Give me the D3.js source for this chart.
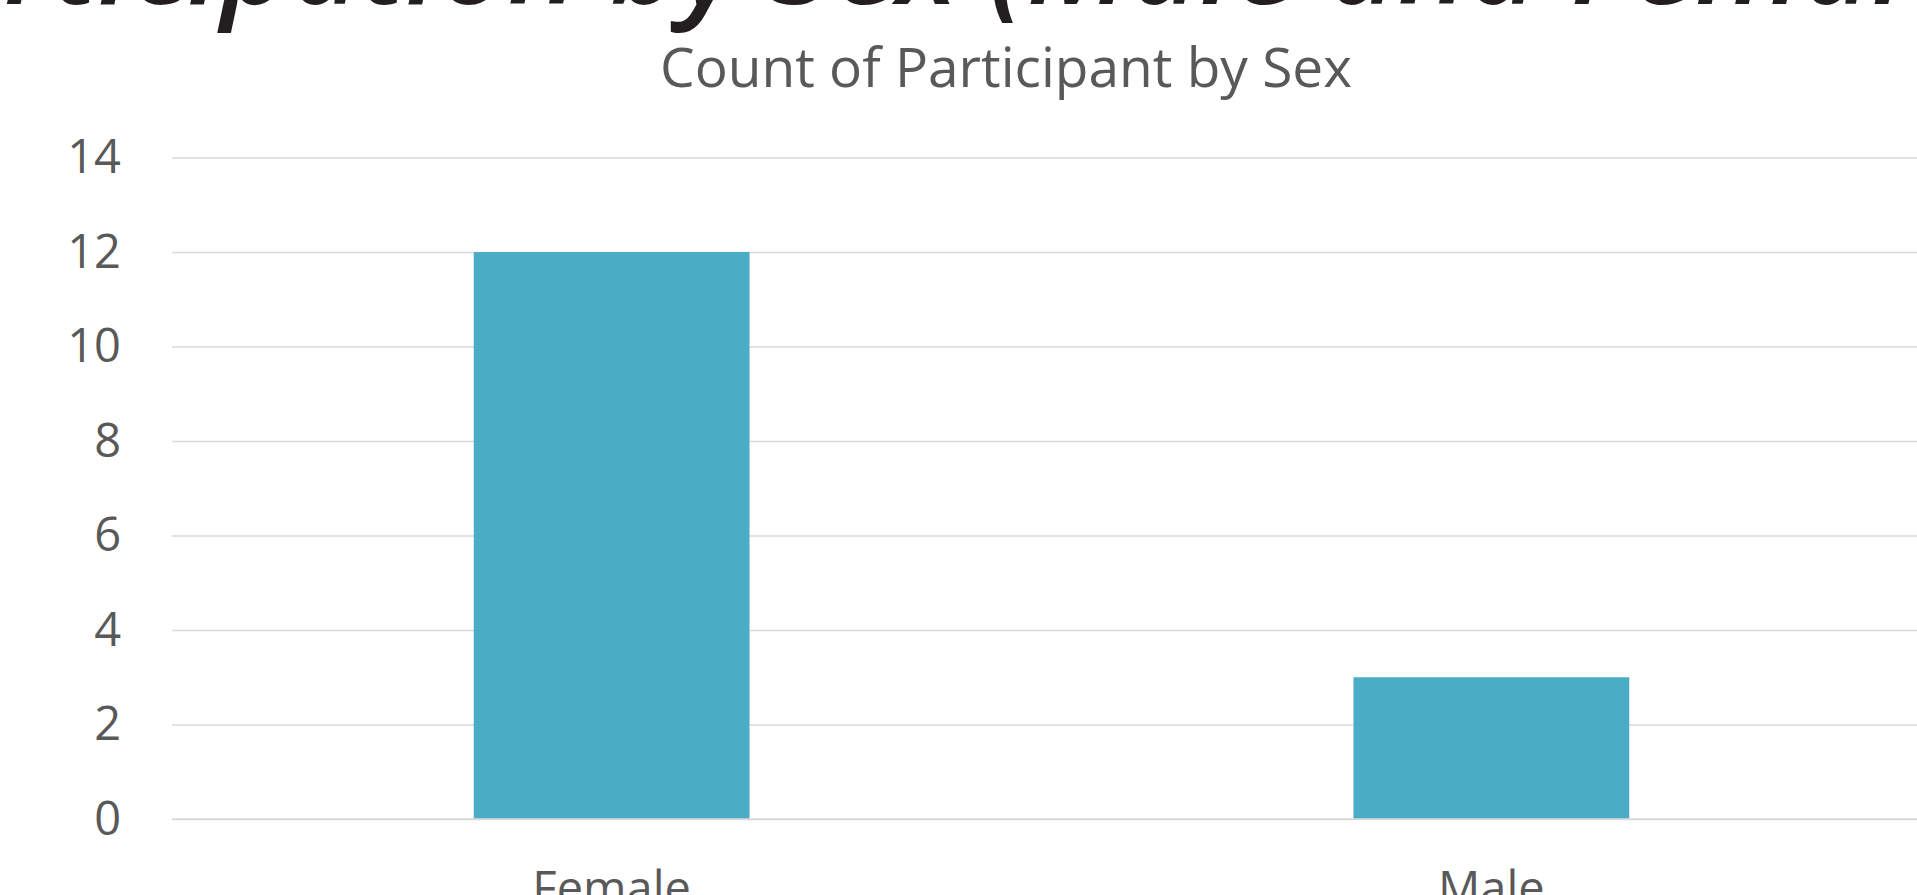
<!DOCTYPE html>
<html>
<head>
<meta charset="utf-8">
<script src="https://cdn.jsdelivr.net/npm/d3@7"></script>
<style>
  body { margin: 0; background: #fff; overflow: hidden; }
  svg { display: block; }
</style>
</head>
<body>
<svg id="chart" width="1917" height="895"></svg>
<script>
// data
const categories = ["Female", "Male"]
const counts = [12, 3]
const yTicks = [0, 2, 4, 6, 8, 10, 12, 14]
const mainTitle = "Participation by Sex (Male and Female)"
const chartTitle = "Count of Participant by Sex"

const plotLeft = 172, plotRight = 1931, plotTop = 157.5, plotBottom = 819

let svg = d3.select("#chart")

let xScale = d3.scaleBand().domain(categories).range([plotLeft, plotRight])
    .paddingInner(0.6865).paddingOuter(0.343)
let yScale = d3.scaleLinear().domain([0, 14]).range([plotBottom, plotTop])

// gridlines + y labels
let y_axis = d3.axisLeft(yScale).tickValues(yTicks)
    .tickSize(-(plotRight - plotLeft)).tickPadding(51)
svg.append("g")
    .attr("transform", `translate(${plotLeft},0)`)
    .call(y_axis)
    .call(g => g.select(".domain").remove())
    .call(g => g.selectAll(".tick line").attr("stroke", "#d9d9d9").attr("stroke-width", 1.6))
    .call(g => g.selectAll(".tick text")
        .attr("fill", "#595959")
        .style("font-family", "'Open Sans', sans-serif")
        .style("font-size", "47px"))

// bars
svg.selectAll(".bar")
    .data(counts)
    .enter()
    .append("rect")
    .attr("class", "bar")
    .attr("x", (d, i) => xScale(categories[i]))
    .attr("width", xScale.bandwidth())
    .attr("y", d => yScale(d))
    .attr("height", d => yScale(0) - yScale(d))
    .attr("fill", "#4bacc6")

// baseline
svg.append("line")
    .attr("x1", plotLeft).attr("x2", plotRight)
    .attr("y1", yScale(0)).attr("y2", yScale(0))
    .attr("stroke", "#d9d9d9").attr("stroke-width", 1.6)

// category labels
let x_axis = d3.axisBottom(xScale).tickSize(0).tickPadding(0)
svg.append("g")
    .attr("transform", `translate(0,${yScale(0)})`)
    .call(x_axis)
    .call(g => g.select(".domain").remove())
    .call(g => g.selectAll(".tick text")
        .attr("dy", null)
        .attr("y", 86)
        .attr("fill", "#595959")
        .style("font-family", "'Open Sans', sans-serif")
        .style("font-size", "47px"))

// chart title
svg.append("text")
    .attr("x", 1006)
    .attr("y", 87)
    .attr("text-anchor", "middle")
    .attr("fill", "#595959")
    .style("font-family", "'Open Sans', sans-serif")
    .style("font-size", "55px")
    .text(chartTitle)

// slide title, cut off at the top; fitted so "(" sits at x=989 and "Femal" ends near 1905
let big = svg.append("text")
    .attr("x", 0)
    .attr("y", 4)
    .attr("fill", "#231f20")
    .style("font-family", "'Open Sans', sans-serif")
    .style("font-style", "italic")
    .style("font-weight", 600)
    .style("font-size", "100px")
    .text(mainTitle)

let node = big.node()
let iParen = mainTitle.indexOf("(")
let iEnd = mainTitle.lastIndexOf("l")
let span = node.getEndPositionOfChar(iEnd).x - node.getStartPositionOfChar(iParen).x
big.style("font-size", (100 * (1905 - 989) / span) + "px")
let px = node.getStartPositionOfChar(iParen).x
big.attr("x", 989 - px)
</script>
</body>
</html>
